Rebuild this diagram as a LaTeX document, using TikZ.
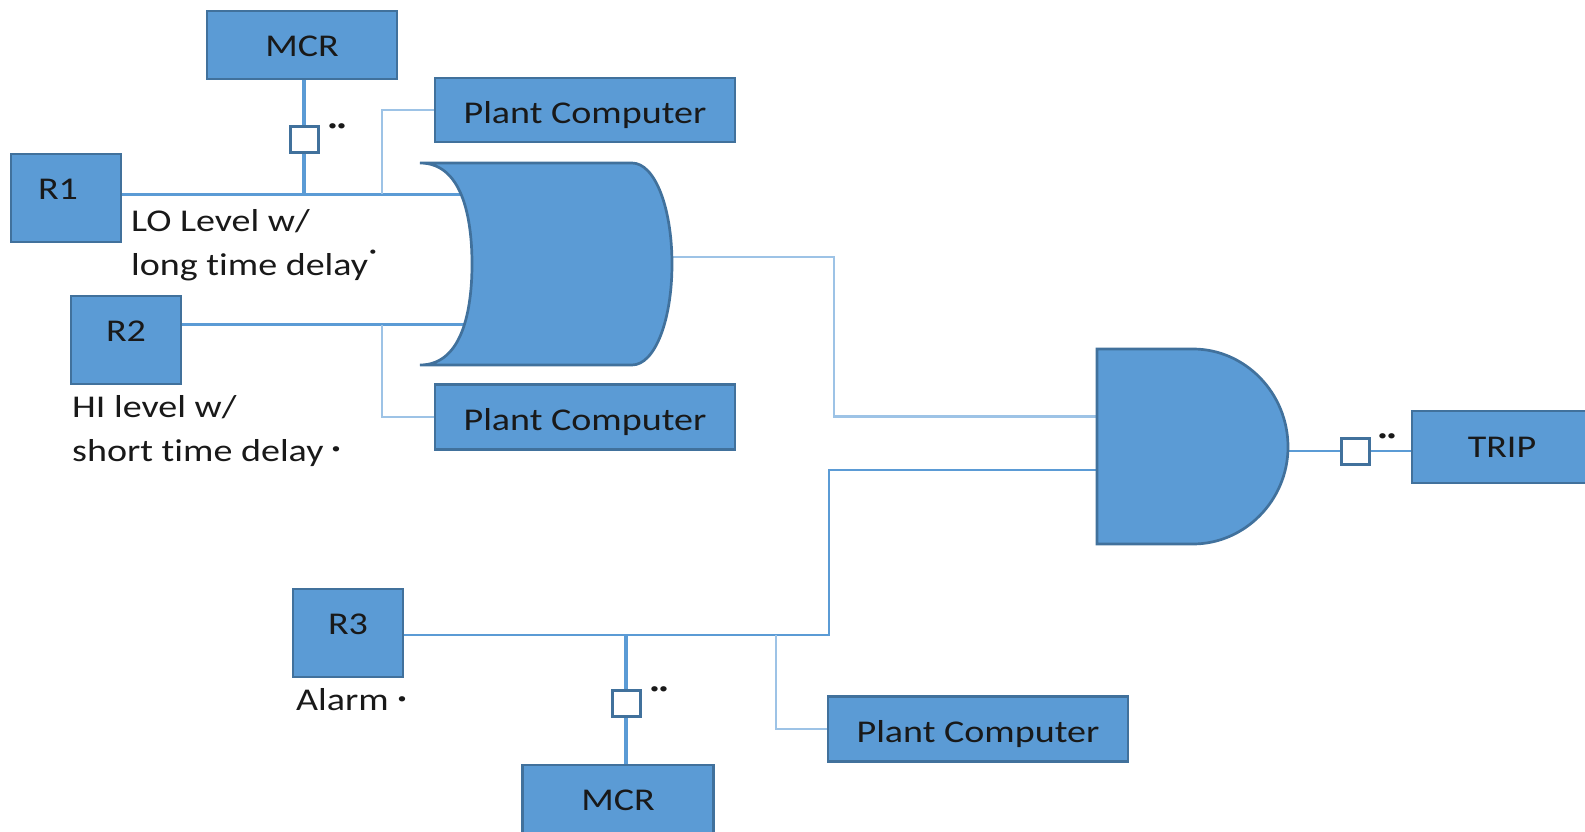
\documentclass[tikz,border=0pt]{standalone}
\usepackage{fontspec}
\setmainfont[FakeStretch=1.2,Ligatures=CommonOff]{Carlito}
\definecolor{gatefill}{HTML}{5B9BD5}
\definecolor{gateedge}{HTML}{41719C}
\definecolor{tapblue}{HTML}{9DC3E6}
\tikzset{
  gatebox/.style={draw=gateedge,line width=2.7pt,fill=gatefill,text=black!90,
    font=\fontsize{31.7}{43}\selectfont,inner sep=0pt,text height=27pt,text depth=0pt},
  relaybox/.style={gatebox,minimum width=110pt,minimum height=88pt,text height=20pt,text depth=18pt},
  swbox/.style={draw=gateedge,line width=3pt,fill=white,minimum width=28pt,minimum height=26pt,inner sep=0pt},
  mainline/.style={draw=gatefill,line width=3pt},
  tapline/.style={draw=tapblue,line width=2.2pt},
  note/.style={font=\fontsize{31.7}{43.5}\selectfont,text=black!90,inner sep=0pt,align=left},
  dots/.style={font=\fontsize{15}{15}\selectfont,text=black!90,inner sep=0pt}
}
\begin{document}
\begin{tikzpicture}[x=1pt,y=-1pt]
    \clip (0,0) rectangle (1585,832);
    \node[gatebox,minimum width=190pt,minimum height=68pt,text height=24pt] (mcrA) at (302,45) {MCR};
    \node[gatebox,minimum width=300pt,minimum height=64pt] (pcA) at (585,110) {Plant Computer};
    \node[relaybox] (R1) at (66,198) {R1\kern16pt};
    \node[relaybox] (R2) at (126,340) {R2};
    \node[gatebox,minimum width=300pt,minimum height=65pt] (pcB) at (585,417) {Plant Computer};
    \node[relaybox] (R3) at (348,633) {R3};
    \node[gatebox,minimum width=300pt,minimum height=65pt] (pcC) at (978,729) {Plant Computer};
    \node[gatebox,minimum width=191pt,minimum height=68pt,text height=22pt] (mcrB) at (618,799) {MCR};
    \node[gatebox,minimum width=180pt,minimum height=72pt,text height=20pt] (trip) at (1502,447) {TRIP};
    \coordinate (swA) at (304,140);
    \coordinate (swB) at (626,703);
    \coordinate (swC) at (1355,451);
    \coordinate (orA) at (480,194);
    \coordinate (orB) at (480,324.5);
    \coordinate (orOut) at (660,257);
    \coordinate (andA) at (1110,416.5);
    \coordinate (andB) at (1110,470);
    \coordinate (andOut) at (1280,451);
    \coordinate (jA) at (304,194);
    \coordinate (jB) at (382,194);
    \coordinate (jC) at (382,324.5);
    \coordinate (jD) at (626,635);
    \coordinate (jE) at (776,635);
    \coordinate (jF) at (829,635);

    % connectors
    \draw[mainline] (R1.east |- jA) -- (orA);
    \draw[mainline] (R2.east |- orB) -- (orB);
    \draw[mainline,line width=3.5pt] (mcrA.south -| swA) -- (jA);
    \draw[tapline] (jB) |- (pcA);
    \draw[tapline] (jC) |- (pcB);
    \draw[tapline] (orOut) -| (834,416.5) -- (andA);
    \draw[mainline,line width=2.2pt] (R3.east |- jD) -- (jF) |- (andB);
    \draw[mainline,line width=3.5pt] (jD) -- (mcrB.north -| jD);
    \draw[tapline] (jE) |- (pcC);
    \draw[mainline,line width=2.2pt] (andOut) -- (trip.west |- andOut);
    \node[swbox] (boxA) at (swA) {};
    \node[swbox] (boxB) at (swB) {};
    \node[swbox] (boxC) at (swC) {};

    % gates
    \draw[draw=gateedge,line width=2.7pt,fill=gatefill] (420,163) .. controls (465,163) and (472,225) .. (472,264)
      .. controls (472,303) and (465,365) .. (420,365) -- (632,365)
      .. controls (655,365) and (672,320) .. (672,264) .. controls (672,208) and (655,163) .. (632,163) -- cycle;
    \draw[draw=gateedge,line width=2.7pt,fill=gatefill] (1097,349) -- (1193,349)
      .. controls (1245,349) and (1288,393) .. (1288,447) .. controls (1288,500) and (1245,544) .. (1193,544)
      -- (1097,544) -- cycle;

    % labels
    \node[note,anchor=west] (loText) at (131,245) {LO Level w/\\long time delay};
    \node[note,anchor=west] (hiText) at (72,431) {HI level w/\\short time delay};
    \node[note,anchor=west] (alarmText) at (296,700) {Alarm};
    \node[dots,font=\fontsize{12}{12}\selectfont] (starA) at (373,253) {•};
    \node[dots] (starB) at (336,450) {•};
    \node[dots] (starC) at (402,700) {•};
    \node[dots] (dotsA) at (337,127) {••};
    \node[dots] (dotsB) at (659,690) {••};
    \node[dots] (dotsC) at (1387,437) {••};
\end{tikzpicture}
\end{document}
